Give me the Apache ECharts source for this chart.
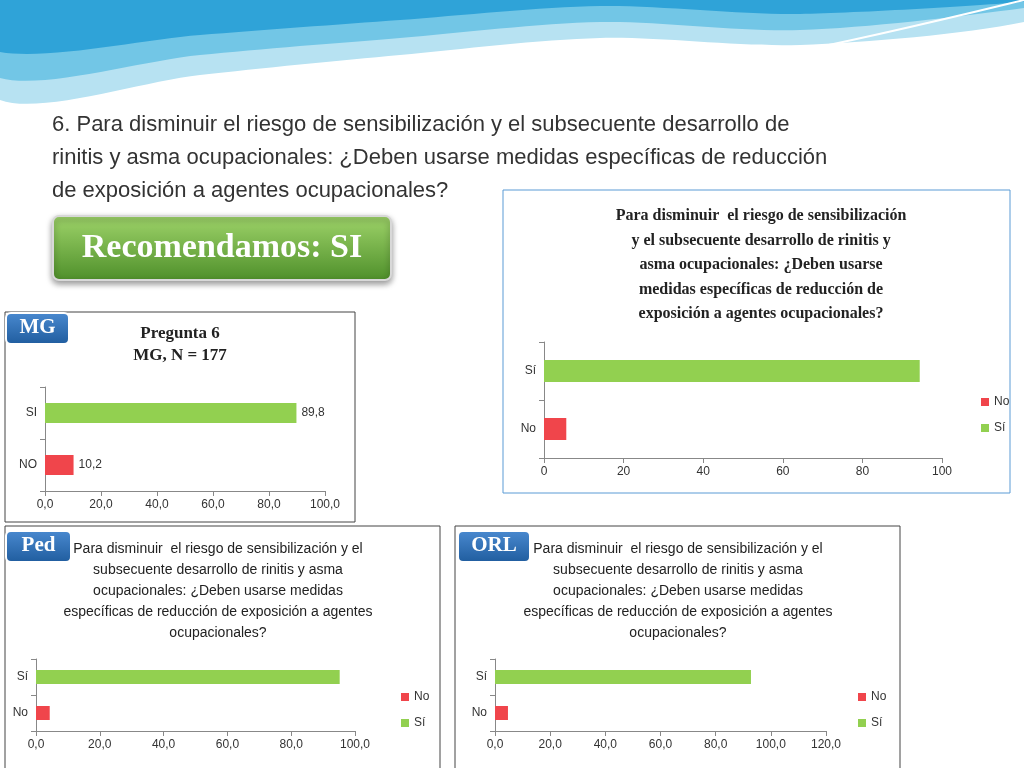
<!DOCTYPE html>
<html><head><meta charset="utf-8">
<script src="https://cdn.jsdelivr.net/npm/echarts@6/dist/echarts.min.js"></script>
<style>html,body{margin:0;padding:0;background:#fff}#c{width:1024px;height:768px}</style>
</head><body><div id="c"></div>
<script>
// MG panel
const mgCats = ['SI', 'NO'];
const mgValues = [89.8, 10.2];
// top right panel (all)
const allCats = ['Sí', 'No'];
const allSi = [94.4, '-'];
const allNo = ['-', 5.6];
// Ped panel
const pedSi = [95.2, '-'];
const pedNo = ['-', 4.3];
// ORL panel
const orlSi = [92.8, '-'];
const orlNo = ['-', 4.7];

const GREEN = '#92d050', RED = '#f0454b';
const longTitle = 'Para disminuir  el riesgo de sensibilización y el\nsubsecuente desarrollo de rinitis y asma\nocupacionales: ¿Deben usarse medidas\nespecíficas de reducción de exposición a agentes\nocupacionales?';

const chart = echarts.init(document.getElementById('c'));

function yAx(i, size) {
  return {gridIndex: i, type: 'category', data: i === 0 ? mgCats : allCats, inverse: true,
    axisLine: {lineStyle: {color: '#888'}}, axisTick: {show: true, lineStyle: {color: '#888'}},
    axisLabel: {fontSize: size, color: '#333', fontFamily: 'Liberation Sans'}};
}
function xAx(i, max, interval, fmt) {
  return {gridIndex: i, type: 'value', min: 0, max: max, interval: interval,
    axisLine: {show: true, lineStyle: {color: '#888'}}, axisTick: {show: true, lineStyle: {color: '#888'}},
    splitLine: {show: false},
    axisLabel: {fontSize: 12, color: '#333', fontFamily: 'Liberation Sans', formatter: fmt}};
}
const comma = v => v.toFixed(1).replace('.', ',');

function pair(i, si, no, bw) {
  return [
    {name: 'No', type: 'bar', xAxisIndex: i, yAxisIndex: i, stack: 's' + i, data: no, barWidth: bw, itemStyle: {color: RED}},
    {name: 'Sí', type: 'bar', xAxisIndex: i, yAxisIndex: i, stack: 's' + i, data: si, barWidth: bw, itemStyle: {color: GREEN}}
  ];
}
function legend(left, top) {
  return {data: ['No', 'Sí'], orient: 'vertical', left: left, top: top, itemWidth: 8, itemHeight: 8,
    itemGap: 14, icon: 'rect', textStyle: {fontSize: 12, color: '#333', fontFamily: 'Liberation Sans'}};
}

function badge(x, y, w, text) {
  return {type: 'group', left: x, top: y, children: [
    {type: 'rect', shape: {width: w, height: 31, r: 5},
      style: {fill: new echarts.graphic.LinearGradient(0, 0, 0, 1, [{offset: 0, color: '#4a8ad0'}, {offset: 1, color: '#1f5c9e'}]), stroke: '#fff', lineWidth: 2}},
    {type: 'text', x: w / 2, y: 15, style: {text: text, fill: '#fff', font: 'bold 21px "Liberation Serif"', align: 'center', verticalAlign: 'middle'}}
  ]};
}
function wave(pts, color, z) {
  return {type: 'polygon', shape: {points: pts, smooth: 0.3}, style: {fill: color}, z: z, silent: true};
}

chart.setOption({
  animation: false,
  grid: [
    {left: 45, top: 387, width: 280, height: 104},
    {left: 544, top: 342, width: 398, height: 116},
    {left: 36, top: 659, width: 319, height: 72},
    {left: 495, top: 659, width: 331, height: 72}
  ],
  xAxis: [
    xAx(0, 100, 20, comma),
    xAx(1, 100, 20, v => v),
    xAx(2, 100, 20, comma),
    xAx(3, 120, 20, comma)
  ],
  yAxis: [yAx(0, 12), yAx(1, 12), yAx(2, 12), yAx(3, 12)],
  legend: [legend(976, 391), legend(396, 686), legend(853, 686)],
  series: [
    {type: 'bar', xAxisIndex: 0, yAxisIndex: 0, barWidth: 20, data: mgValues.map((v, k) => ({value: v, itemStyle: {color: k === 0 ? GREEN : RED}})),
      label: {show: true, position: 'right', fontSize: 12, color: '#333', formatter: p => comma(p.value)}},
    ...pair(1, allSi, allNo, 22),
    ...pair(2, pedSi, pedNo, 14),
    ...pair(3, orlSi, orlNo, 14)
  ],
  graphic: [
    // top waves
    {type: 'rect', shape: {x: 0, y: 0, width: 1024, height: 2}, style: {fill: '#2fa3d8'}, z: -11},
    wave([[0, 0], [1024, 0], [1024, 22], [800, 45], [600, 38], [400, 55], [200, 75], [0, 100]], '#b7e2f2', -10),
    wave([[0, 0], [1024, 0], [1024, 8], [800, 30], [600, 22], [400, 38], [200, 55], [0, 78]], '#72c6e6', -9),
    wave([[0, 0], [1024, 0], [800, 14], [600, 6], [400, 20], [200, 35], [0, 52]], '#2fa3d8', -8),
    {type: 'bezierCurve', shape: {x1: 480, y1: 98, x2: 1024, y2: 0, cpx1: 700, cpy1: 80, cpx2: 900, cpy2: 30}, style: {stroke: '#fff', lineWidth: 2, fill: null}, z: -7},
    // main question
    {type: 'text', left: 52, top: 108, style: {text: '6. Para disminuir el riesgo de sensibilización y el subsecuente desarrollo de\nrinitis y asma ocupacionales: ¿Deben usarse medidas específicas de reducción\nde exposición a agentes ocupacionales?', fill: '#333', font: '22px "Liberation Sans"', lineHeight: 33}},
    // recommend button
    {type: 'group', left: 52, top: 215, children: [
      {type: 'rect', shape: {width: 338, height: 64, r: 6}, style: {fill: new echarts.graphic.LinearGradient(0, 0, 0, 1, [{offset: 0, color: '#9fd46a'}, {offset: 1, color: '#4e8f2a'}]), stroke: '#d8d8d8', lineWidth: 2, shadowBlur: 6, shadowColor: 'rgba(0,0,0,0.4)', shadowOffsetY: 3}},
      {type: 'text', x: 169, y: 32, style: {text: 'Recomendamos: SI', fill: '#fff', font: 'bold 34px "Liberation Serif"', align: 'center', verticalAlign: 'middle'}}
    ]},
    // panel boxes
    {type: 'rect', shape: {x: 5, y: 312, width: 350, height: 210}, style: {fill: null, stroke: '#444', lineWidth: 1}, z: -1},
    {type: 'rect', shape: {x: 503, y: 190, width: 507, height: 303}, style: {fill: null, stroke: '#5b9bd5', lineWidth: 1}, z: -1},
    {type: 'rect', shape: {x: 5, y: 526, width: 435, height: 250}, style: {fill: null, stroke: '#444', lineWidth: 1}, z: -1},
    {type: 'rect', shape: {x: 455, y: 526, width: 445, height: 250}, style: {fill: null, stroke: '#444', lineWidth: 1}, z: -1},
    // panel titles
    {type: 'text', x: 180, y: 323, style: {text: 'Pregunta 6\nMG, N = 177', fill: '#222', font: 'bold 17px "Liberation Serif"', align: 'center', lineHeight: 22}},
    {type: 'text', x: 761, y: 204, style: {text: 'Para disminuir  el riesgo de sensibilización\ny el subsecuente desarrollo de rinitis y\nasma ocupacionales: ¿Deben usarse\nmedidas específicas de reducción de\nexposición a agentes ocupacionales?', fill: '#222', font: 'bold 16px "Liberation Serif"', align: 'center', lineHeight: 24.5}},
    {type: 'text', x: 218, y: 539, style: {text: longTitle, fill: '#222', font: '14px "Liberation Sans"', align: 'center', lineHeight: 21}},
    {type: 'text', x: 678, y: 539, style: {text: longTitle, fill: '#222', font: '14px "Liberation Sans"', align: 'center', lineHeight: 21}},
    // badges
    badge(5, 312, 63, 'MG'),
    badge(5, 530, 65, 'Ped'),
    badge(457, 530, 72, 'ORL')
  ]
});
</script>
</body></html>
